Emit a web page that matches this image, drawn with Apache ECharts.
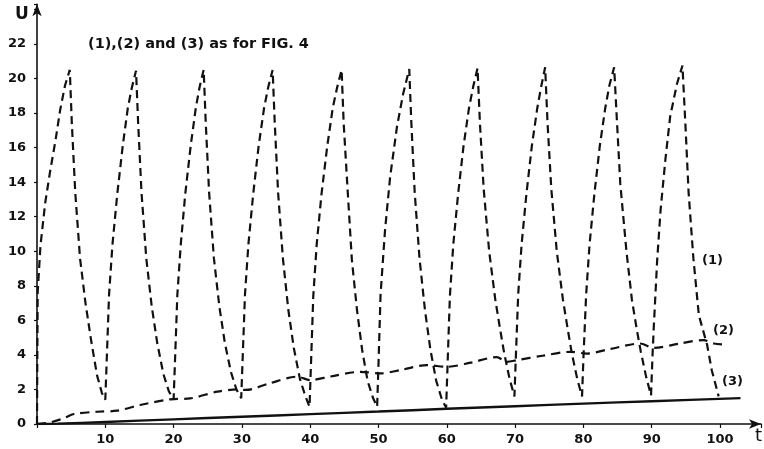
<!DOCTYPE html>
<html>
<head>
<meta charset="utf-8">
<script src="https://cdn.jsdelivr.net/npm/echarts@6/dist/echarts.min.js"></script>
<style>
html,body{margin:0;padding:0;background:#fff;}
#chart{width:764px;height:449px;}
</style>
</head>
<body>
<div id="chart"></div>
<script>
// Tick labels
var xTicks = [10, 20, 30, 40, 50, 60, 70, 80, 90, 100];
var yTicks = [0, 2, 4, 6, 8, 10, 12, 14, 16, 18, 20, 22];

// Curve (1): oscillating, dashed  [t, u]
var curve1 = [
  [0,0],[0.05,4.0],[0.1,7.6],[0.5,10.3],[1.2,12.8],[1.95,14.7],[2.7,16.4],[3.4,18.2],[4.1,19.6],[4.8,20.5],
  [5.1,17.4],[5.6,13.4],[6.3,9.6],[7.1,7.0],[7.9,4.9],[8.8,2.8],[9.5,1.8],[10.0,1.4],
  [10.2,3.6],[10.55,7.5],[11.05,10.4],[11.75,13.3],[12.55,16.1],[13.3,18.3],[13.9,19.5],[14.5,20.45],
  [14.8,17.5],[15.3,13.4],[16.0,9.6],[16.8,6.8],[17.6,4.7],[18.5,2.9],[19.3,1.9],[20.0,1.4],
  [20.2,3.6],[20.55,7.5],[21.05,10.4],[21.7,13.3],[22.5,16.1],[23.25,18.3],[23.8,19.5],[24.4,20.5],
  [24.7,17.5],[25.2,13.4],[25.9,9.6],[26.7,6.8],[27.5,4.7],[28.4,3.0],[29.2,2.0],[29.9,1.5],
  [30.1,3.7],[30.45,7.5],[30.95,10.4],[31.65,13.3],[32.45,16.1],[33.25,18.3],[33.85,19.5],[34.5,20.5],
  [34.8,17.5],[35.3,13.4],[36.0,9.6],[36.8,6.6],[37.6,4.4],[38.5,2.6],[39.3,1.6],[39.9,1.0],
  [40.1,3.3],[40.45,7.4],[40.95,10.4],[41.65,13.3],[42.5,16.1],[43.3,18.3],[43.95,19.5],[44.6,20.5],
  [44.9,17.4],[45.5,13.4],[46.1,9.5],[46.85,6.6],[47.6,4.3],[48.4,2.5],[49.2,1.5],[49.8,1.0],
  [50.0,3.5],[50.3,7.5],[50.95,11.2],[51.7,14.3],[52.7,17.2],[53.6,19.1],[54.5,20.55],
  [54.8,17.5],[55.3,13.4],[56.0,9.6],[56.8,6.6],[57.6,4.3],[58.45,2.5],[59.3,1.4],[59.9,0.95],
  [60.1,3.3],[60.45,7.4],[60.95,10.4],[61.65,13.3],[62.45,16.1],[63.25,18.3],[63.9,19.6],[64.5,20.6],
  [64.85,17.4],[65.4,13.6],[66.2,10.0],[67.1,7.2],[67.8,5.5],[68.4,4.1],[69.2,2.6],[69.9,1.6],
  [70.1,3.8],[70.45,7.5],[70.95,10.4],[71.65,13.3],[72.45,16.1],[73.25,18.3],[73.85,19.6],[74.4,20.65],
  [74.75,17.4],[75.3,13.6],[76.1,10.0],[77.0,7.2],[77.7,5.5],[78.3,4.1],[79.1,2.6],[79.8,1.6],
  [80.0,3.8],[80.4,7.5],[80.9,10.4],[81.6,13.3],[82.4,16.1],[83.2,18.3],[83.8,19.6],[84.5,20.65],
  [84.9,17.6],[85.4,13.9],[86.3,10.0],[87.1,7.2],[87.8,5.5],[88.4,4.2],[89.2,2.7],[89.9,1.65],
  [90.1,3.8],[90.3,5.6],[90.8,9.5],[91.3,12.4],[92.0,15.3],[92.7,17.8],[93.7,19.7],[94.5,20.75],
  [94.95,17.2],[95.4,13.4],[96.1,9.6],[96.9,6.3],[98.1,4.6],[98.8,3.1],[99.8,1.6]
];

// Curve (2): slowly rising, dashed
var curve2 = [
  [0,0],[2,0.1],[3.9,0.33],[5.4,0.58],[8.8,0.71],[11.7,0.77],[15.1,1.1],[19.5,1.43],[22.4,1.48],
  [26.4,1.87],[29.3,2.0],[30.6,1.97],[34,2.35],[38.1,2.74],[40,2.54],[43,2.75],[47.3,3.02],[50.3,2.93],
  [53.5,3.15],[57.1,3.41],[60,3.31],[63.5,3.55],[67.3,3.87],[68.8,3.6],[70.3,3.7],[74,3.95],[78.1,4.18],
  [80.5,4.08],[84,4.35],[88.3,4.66],[90.3,4.41],[94,4.65],[97.6,4.86],[99.1,4.66],[101,4.6]
];

// Curve (3): nearly linear, solid
var curve3 = [
  [0,0],[3,0.02],[10,0.12],[20,0.27],[30,0.42],[40,0.57],[50,0.72],[60,0.88],[70,1.03],[80,1.18],[90,1.32],[103,1.5]
];

var labelFont = 'DejaVu Sans';
var ink = '#111';

var chart = echarts.init(document.getElementById('chart'));
chart.setOption({
  animation: false,
  backgroundColor: '#fff',
  grid: { left: 37, right: 3, top: 4.3, bottom: 25, containLabel: false },
  xAxis: {
    type: 'value', min: 0, max: 106, interval: 10,
    axisLine: { show: true, symbol: ['none', 'arrow'], symbolSize: [7, 12], lineStyle: { color: ink, width: 1.6 } },
    axisTick: { show: true, length: 4, lineStyle: { color: ink, width: 1.2 } },
    axisLabel: {
      margin: 9, color: ink, fontFamily: labelFont, fontSize: 13, fontWeight: 'bold',
      formatter: function (v) { return xTicks.indexOf(v) >= 0 ? String(v) : ''; }
    },
    splitLine: { show: false }
  },
  yAxis: {
    type: 'value', min: 0, max: 24.3, interval: 2,
    axisLine: { show: true, symbol: ['none', 'arrow'], symbolSize: [7, 12], lineStyle: { color: ink, width: 1.6 } },
    axisTick: { show: true, length: 3, lineStyle: { color: ink, width: 1.2 } },
    axisLabel: {
      margin: 11, color: ink, fontFamily: labelFont, fontSize: 13, fontWeight: 'bold',
      formatter: function (v) { return yTicks.indexOf(v) >= 0 ? String(v) : ''; }
    },
    splitLine: { show: false }
  },
  series: [
    { type: 'line', data: curve1, symbol: 'none', smooth: false,
      lineStyle: { color: ink, width: 2.2, type: [8, 5] } },
    { type: 'line', data: curve2, symbol: 'none', smooth: 0.3,
      lineStyle: { color: ink, width: 2.2, type: [9, 6] } },
    { type: 'line', data: curve3, symbol: 'none', smooth: 0.3,
      lineStyle: { color: ink, width: 2.4 } }
  ],
  graphic: [
    { type: 'text', left: 15, top: 6, style: { text: 'U', fontFamily: labelFont, fontSize: 17, fontWeight: 'bold', fill: ink } },
    { type: 'text', left: 755, top: 427, style: { text: 't', fontFamily: labelFont, fontSize: 18, fill: ink } },
    { type: 'text', left: 88, top: 37, style: { text: '(1),(2) and (3) as for FIG. 4', fontFamily: labelFont, fontSize: 14.5, fontWeight: 'bold', fill: ink } },
    { type: 'text', left: 702, top: 254, style: { text: '(1)', fontFamily: labelFont, fontSize: 13, fontWeight: 'bold', fill: ink } },
    { type: 'text', left: 713, top: 324, style: { text: '(2)', fontFamily: labelFont, fontSize: 13, fontWeight: 'bold', fill: ink } },
    { type: 'text', left: 722, top: 375, style: { text: '(3)', fontFamily: labelFont, fontSize: 13, fontWeight: 'bold', fill: ink } }
  ]
});
</script>
</body>
</html>
